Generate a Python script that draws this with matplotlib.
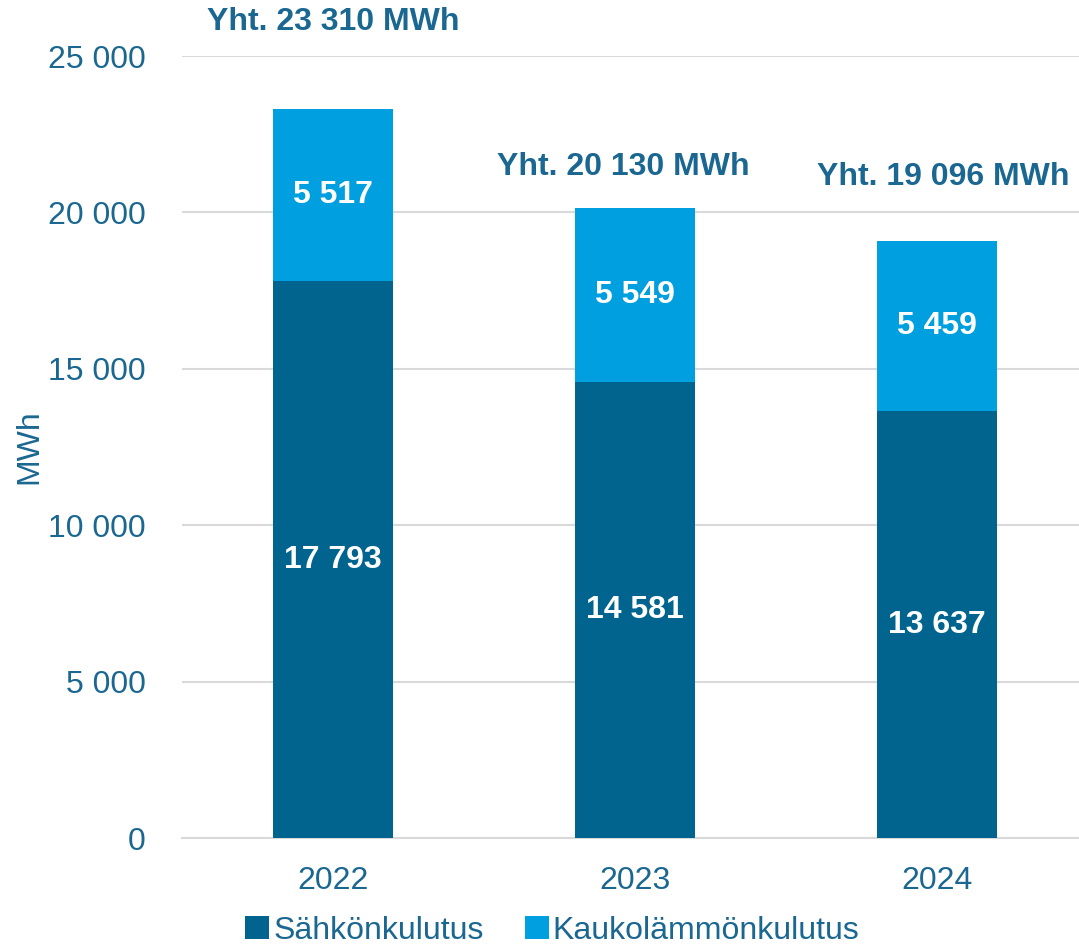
import numpy as np
import matplotlib.pyplot as plt

plt.rcParams['font.family'] = ['Liberation Sans', 'DejaVu Sans']

years = ['2022', '2023', '2024']
sahko = [17793, 14581, 13637]
kauko = [5517, 5549, 5459]
totals = [23310, 20130, 19096]

dark = '#00648F'
light = '#009FDF'
txt = '#1A6791'


def fi(v):
    return f'{v:,}'.replace(',', ' ')


fig = plt.figure(figsize=(10.79, 9.49), dpi=100)
ax = fig.add_axes([182 / 1079, 1 - 838 / 949, 1 - 182 / 1079, (838 - 56) / 949])

x = np.arange(len(years))
b1 = ax.bar(x, sahko, width=0.4, color=dark, label='Sähkönkulutus', zorder=3)
b2 = ax.bar(x, kauko, width=0.4, bottom=sahko, color=light, label='Kaukolämmönkulutus', zorder=3)
ax.bar_label(b1, labels=[fi(v) for v in sahko], label_type='center',
             color='white', fontsize=23, fontweight='bold')
ax.bar_label(b2, labels=[fi(v) for v in kauko], label_type='center',
             color='white', fontsize=23, fontweight='bold')

# total labels sit at different heights above the bars in the original
dx = [0.0, -0.04, 0.02]
dy = [2780, 1320, 2030]
for i, t in enumerate(totals):
    ax.text(x[i] + dx[i], t + dy[i], 'Yht. ' + fi(t) + ' MWh', ha='center', va='center',
            fontsize=23, fontweight='bold', color=txt, clip_on=False)

ax.set_xlim(-0.5, 2.47)
ax.set_ylim(0, 25000)
ax.set_yticks(range(0, 25001, 5000))
ax.set_yticklabels([fi(v) for v in range(0, 25001, 5000)])
ax.set_xticks(x)
ax.set_xticklabels(years)
ax.tick_params(axis='both', length=0, labelsize=23, labelcolor=txt)
ax.tick_params(axis='y', pad=26)
ax.tick_params(axis='x', pad=20)
ax.yaxis.grid(True, color='#D9D9D9', linewidth=1.5, zorder=0)
ax.set_axisbelow(True)
for s in ['top', 'right', 'left']:
    ax.spines[s].set_visible(False)
ax.spines['bottom'].set_color('#D9D9D9')
ax.spines['bottom'].set_linewidth(1.5)
ax.set_ylabel('MWh', fontsize=23, color=txt)
ax.yaxis.set_label_coords(-0.153, 0.5)

fig.legend(loc='lower center', bbox_to_anchor=(0.512, -0.027), ncol=2, frameon=False,
           fontsize=23, labelcolor=txt, handlelength=0.75, handleheight=0.75,
           handletextpad=0.12, columnspacing=1.3)

fig.savefig('out.png', dpi=100)
